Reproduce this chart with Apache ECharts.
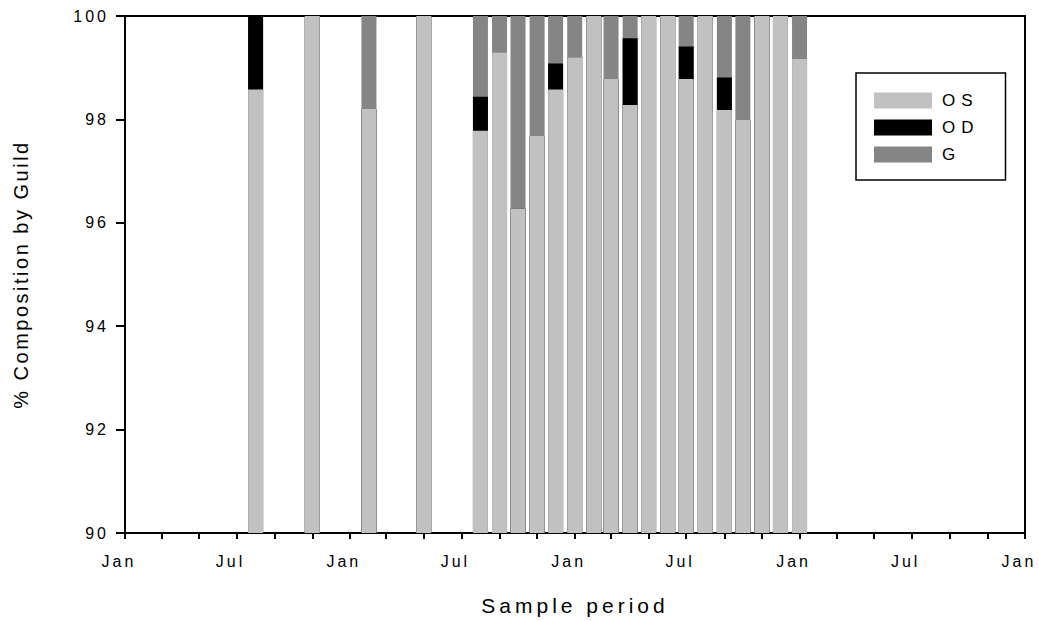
<!DOCTYPE html>
<html>
<head>
<meta charset="utf-8">
<script src="https://cdn.jsdelivr.net/npm/echarts@6/dist/echarts.min.js"></script>
<style>
  html, body { margin: 0; padding: 0; background: #fff; }
  #chart { width: 1039px; height: 621px; }
</style>
</head>
<body>
<div id="chart"></div>
<script>
// Sampling dates (first of each sampled month) and guild composition (%)
const sampleDates = [
  '2001-08-01', '2001-11-01', '2002-02-01', '2002-05-01',
  '2002-08-01', '2002-09-01', '2002-10-01', '2002-11-01', '2002-12-01',
  '2003-01-01', '2003-02-01', '2003-03-01', '2003-04-01', '2003-05-01',
  '2003-06-01', '2003-07-01', '2003-08-01', '2003-09-01', '2003-10-01',
  '2003-11-01', '2003-12-01', '2004-01-01'
];
const osValues = [
  98.58, 100, 98.2, 100,
  97.78, 99.3, 96.27, 97.68, 98.58,
  99.2, 100, 98.78, 98.28, 100,
  100, 98.78, 100, 98.18, 97.99,
  100, 100, 99.18
];
const odValues = [
  1.42, 0, 0, 0,
  0.66, 0, 0, 0, 0.5,
  0, 0, 0, 1.29, 0,
  0, 0.63, 0, 0.63, 0,
  0, 0, 0
];
const gValues = [
  0, 0, 1.8, 0,
  1.56, 0.7, 3.73, 2.32, 0.92,
  0.8, 0, 1.22, 0.43, 0,
  0, 0.59, 0, 1.19, 2.01,
  0, 0, 0.82
];

// Axis ticks and labels
const axisStart = '2001-01-01';
const axisEnd = '2005-01-01';
const labelDates = [
  '2001-01-01', '2001-07-01', '2002-01-01', '2002-07-01', '2003-01-01',
  '2003-07-01', '2004-01-01', '2004-07-01', '2005-01-01'
];
const tickLabels = ['Jan', 'Jul', 'Jan', 'Jul', 'Jan', 'Jul', 'Jan', 'Jul', 'Jan'];
const yTicks = [90, 92, 94, 96, 98, 100];

const xAxisTitle = 'Sample period';
const yAxisTitle = '% Composition by Guild';

function toTime(s) {
  const p = s.split('-').map(Number);
  return Date.UTC(p[0], p[1] - 1, p[2]);
}

// Minor ticks every second month across the axis span
const tickTimes = [];
{
  const start = new Date(toTime(axisStart));
  const end = toTime(axisEnd);
  for (let d = new Date(start); d.getTime() <= end; d.setUTCMonth(d.getUTCMonth() + 2)) {
    tickTimes.push(d.getTime());
  }
}
const labelTimes = labelDates.map(toTime);

// Cumulative tops of each guild segment (OS at the bottom, then OD, then G)
const osTop = osValues.slice();
const odTop = osValues.map((v, i) => v + odValues[i]);
const gTop = odTop.map((v, i) => v + gValues[i]);

function pairs(values) {
  return sampleDates.map((d, i) => [toTime(d), values[i]]);
}

const FONT = '"Liberation Sans", Arial, sans-serif';
const COLORS = { OS: '#c1c1c1', OD: '#000000', G: '#858585' };

function barSeries(name, tops, z) {
  return {
    name: name, type: 'bar', barWidth: 15, barGap: '-100%', clip: true, z: z,
    itemStyle: { color: COLORS[name] },
    data: pairs(tops)
  };
}

const chart = echarts.init(document.getElementById('chart'), null, { renderer: 'svg' });

chart.setOption({
  animation: false,
  backgroundColor: '#ffffff',
  grid: {
    left: 125, right: 14, top: 16, bottom: 88,
    show: true, borderColor: '#000', borderWidth: 2, backgroundColor: 'transparent'
  },
  legend: {
    orient: 'vertical',
    left: 856, top: 73,
    padding: [19, 38, 17, 18],
    itemWidth: 58, itemHeight: 16, itemGap: 10,
    borderColor: '#000', borderWidth: 1.5, backgroundColor: '#fff',
    icon: 'rect',
    textStyle: { fontFamily: FONT, fontSize: 17, color: '#000', padding: [0, 0, 0, 5] },
    data: ['OS', 'OD', 'G']
  },
  xAxis: {
    type: 'value',
    min: toTime(axisStart),
    max: toTime(axisEnd),
    name: xAxisTitle,
    nameLocation: 'middle',
    nameGap: 62,
    nameTextStyle: { fontFamily: FONT, fontSize: 21, color: '#000' },
    axisLine: { show: true, onZero: false, lineStyle: { color: '#000', width: 2 } },
    axisTick: { show: true, inside: false, length: 6, customValues: tickTimes,
                lineStyle: { color: '#000', width: 2 } },
    axisLabel: {
      customValues: labelTimes,
      showMinLabel: true, showMaxLabel: true,
      margin: 20,
      padding: [0, 12, 0, 0],
      fontFamily: FONT, fontSize: 16, color: '#000',
      formatter: function (v) {
        const i = labelTimes.indexOf(v);
        return i >= 0 ? tickLabels[i] : '';
      }
    },
    splitLine: { show: false }
  },
  yAxis: {
    type: 'value',
    min: yTicks[0], max: yTicks[yTicks.length - 1], interval: 2,
    name: yAxisTitle,
    nameLocation: 'middle',
    nameGap: 94,
    nameTextStyle: { fontFamily: FONT, fontSize: 20, color: '#000' },
    axisLine: { show: true, onZero: false, lineStyle: { color: '#000', width: 2 } },
    axisTick: { show: true, inside: false, length: 9, lineStyle: { color: '#000', width: 2 } },
    axisLabel: { margin: 16, fontFamily: FONT, fontSize: 16, color: '#000' },
    splitLine: { show: false }
  },
  // Tallest segment first; each shorter cumulative bar is laid over it
  series: [
    barSeries('G', gTop, 2),
    barSeries('OD', odTop, 3),
    barSeries('OS', osTop, 4)
  ]
});

// Widen letter spacing of the text, as in the printed figure
function spaceLetters() {
  document.querySelectorAll('#chart svg text').forEach(function (el) {
    const t = el.textContent;
    let s = '3px';
    if (t === xAxisTitle) s = '4px';
    else if (t === yAxisTitle) s = '2.5px';
    else if (t === 'OS' || t === 'OD' || t === 'G') s = '6px';
    el.setAttribute('letter-spacing', s);
  });
}
spaceLetters();
chart.on('finished', spaceLetters);
</script>
</body>
</html>
